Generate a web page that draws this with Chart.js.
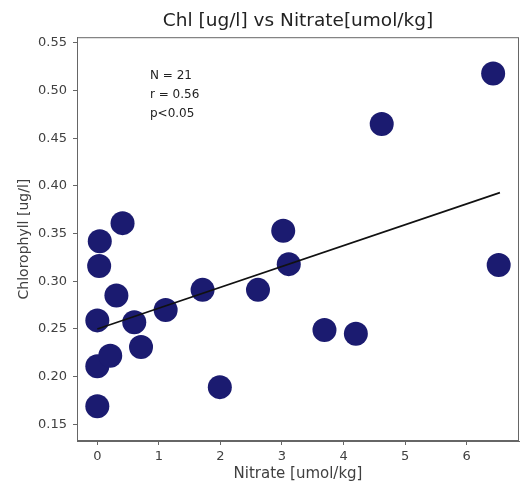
<!DOCTYPE html>
<html>
<head>
<meta charset="utf-8">
<script src="https://cdn.jsdelivr.net/npm/chart.js@4.4.0/dist/chart.umd.min.js"></script>
<style>
  html, body { margin: 0; padding: 0; background: #fff; overflow: hidden; }
  #wrap { width: 525px; height: 490px; }
  canvas { display: block; }
</style>
</head>
<body>
<div id="wrap"><canvas id="scatter" width="525" height="490"></canvas></div>
<script>
// nitrate (x) and chlorophyll (y), one entry per station
var nitrate = [0.00, 0.00, 0.21, 0.00, 0.03, 0.04, 0.41, 0.31, 0.60, 0.71, 1.11,
               1.71, 1.99, 2.61, 3.02, 3.11, 3.69, 4.20, 4.62, 6.43, 6.52];
var chl     = [0.169, 0.211, 0.222, 0.259, 0.316, 0.342, 0.361, 0.285, 0.257, 0.231, 0.270,
               0.291, 0.189, 0.291, 0.353, 0.318, 0.249, 0.245, 0.465, 0.518, 0.317];

// fitted line end points
var fitX = [0, 6.54];
var fitY = [0.250, 0.393];

var xTicks = [0, 1, 2, 3, 4, 5, 6];
var yTicks = [0.15, 0.20, 0.25, 0.30, 0.35, 0.40, 0.45, 0.50, 0.55];

var statLines = ['N = 21', 'r = 0.56', 'p<0.05'];

var pts = nitrate.map(function (v, i) { return { x: v, y: chl[i] }; });
var fit = fitX.map(function (v, i) { return { x: v, y: fitY[i] }; });

var txt = '#404040';
var axisCol = '#666';

// box round the plot + stats text
var framePlugin = {
    id: 'frame',
    afterDraw: function (chart) {
        var a = chart.chartArea, c = chart.ctx;
        c.save();
        c.strokeStyle = axisCol;
        c.lineWidth = 1;
        c.strokeRect(a.left + 0.5, a.top + 0.5, a.right - a.left - 1, a.bottom - a.top - 1);
        c.fillStyle = '#222';
        c.font = '12px "DejaVu Sans"';
        c.textBaseline = 'middle';
        for (var i = 0; i < statLines.length; i++) {
            c.fillText(statLines[i], 150, 76 + i * 18.7);
        }
        c.restore();
    }
};

var ctx = document.getElementById('scatter').getContext('2d');
var chart = new Chart(ctx, {
    type: 'scatter',
    data: {
        datasets: [{
            type: 'line',
            label: 'fit',
            data: fit,
            borderColor: '#111',
            borderWidth: 1.6,
            pointRadius: 0,
            fill: false,
            order: 0
        }, {
            label: 'stations',
            data: pts,
            backgroundColor: '#1b1b70',
            borderWidth: 0,
            pointRadius: 12,
            pointHoverRadius: 12,
            order: 1
        }]
    },
    options: {
        responsive: false,
        animation: false,
        layout: { autoPadding: false, padding: { left: 10, right: 6, top: 6, bottom: 7 } },
        plugins: {
            legend: { display: false },
            tooltip: { enabled: false },
            title: {
                display: true,
                text: 'Chl [ug/l] vs Nitrate[umol/kg]',
                fullSize: false,
                color: '#222',
                font: { family: 'DejaVu Sans', size: 18.5, weight: 'normal' },
                padding: { top: 4, bottom: 5 }
            }
        },
        scales: {
            x: {
                type: 'linear',
                min: -0.33,
                max: 6.85,
                afterBuildTicks: function (s) { s.ticks = xTicks.map(function (v) { return { value: v }; }); },
                afterFit: function (s) { s.height = 42; },
                border: { display: true, color: axisCol },
                grid: { drawOnChartArea: false, drawTicks: true, tickLength: 4, color: axisCol },
                ticks: {
                    includeBounds: false,
                    color: txt,
                    padding: 4,
                    font: { family: 'DejaVu Sans', size: 13 },
                    callback: function (v) { return v; }
                },
                title: {
                    display: true,
                    text: 'Nitrate [umol/kg]',
                    color: txt,
                    font: { family: 'DejaVu Sans', size: 15 },
                    padding: { top: 0, bottom: 0 }
                }
            },
            y: {
                type: 'linear',
                min: 0.1325,
                max: 0.556,
                afterBuildTicks: function (s) { s.ticks = yTicks.map(function (v) { return { value: v }; }); },
                afterFit: function (s) { s.width = 67; },
                border: { display: true, color: axisCol },
                grid: { drawOnChartArea: false, drawTicks: true, tickLength: 4, color: axisCol },
                ticks: {
                    includeBounds: false,
                    color: txt,
                    padding: 6,
                    font: { family: 'DejaVu Sans', size: 13 },
                    callback: function (v) { return v.toFixed(2); }
                },
                title: {
                    display: true,
                    text: 'Chlorophyll [ug/l]',
                    color: txt,
                    font: { family: 'DejaVu Sans', size: 14 },
                    padding: { top: 6, bottom: 4 }
                }
            }
        }
    },
    plugins: [framePlugin]
});
</script>
</body>
</html>
